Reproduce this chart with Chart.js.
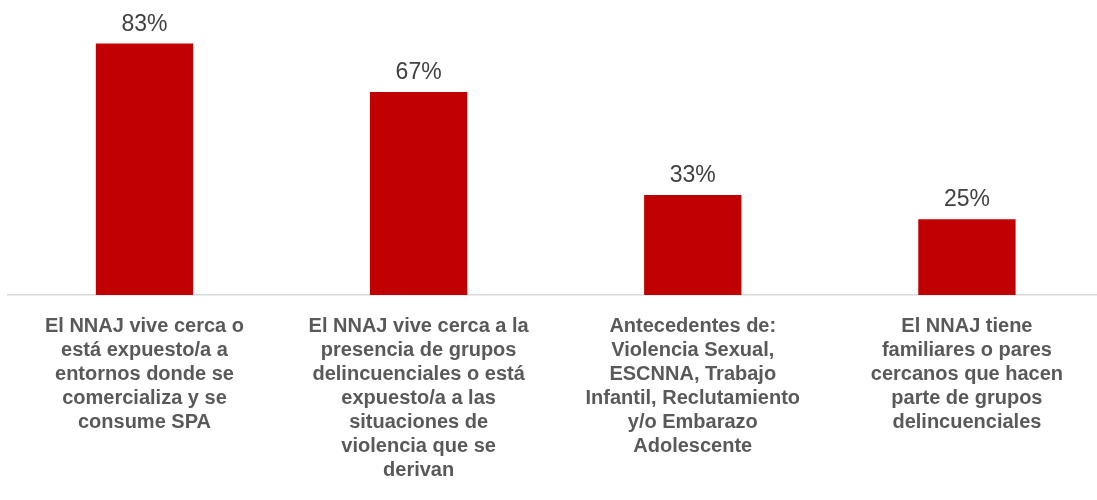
<!DOCTYPE html>
<html>
<head>
<meta charset="utf-8">
<script src="https://cdn.jsdelivr.net/npm/chart.js@4.4.0/dist/chart.umd.min.js"></script>
<style>
  html, body { margin: 0; padding: 0; overflow: hidden; background: #fff; }
  #wrap { width: 1112px; height: 500px; }
</style>
</head>
<body>
<div id="wrap"><canvas id="chart" width="1112" height="500"></canvas></div>
<script>
// categories (wrapped as in the picture)
const categories = [
    ['El NNAJ vive cerca o', 'está expuesto/a a', 'entornos donde se', 'comercializa y se', 'consume SPA'],
    ['El NNAJ vive cerca a la', 'presencia de grupos', 'delincuenciales o está', 'expuesto/a a las', 'situaciones de', 'violencia que se', 'derivan'],
    ['Antecedentes de:', 'Violencia Sexual,', 'ESCNNA, Trabajo', 'Infantil, Reclutamiento', 'y/o Embarazo', 'Adolescente'],
    ['El NNAJ tiene', 'familiares o pares', 'cercanos que hacen', 'parte de grupos', 'delincuenciales']
]
const values = [83, 67, 33, 25]
const valueLabels = ['83%', '67%', '33%', '25%']

const barLabels = {
    id: 'barLabels',
    afterDatasetsDraw(chart) {
        const ctx = chart.ctx
        const meta = chart.getDatasetMeta(0)
        ctx.save()
        ctx.font = '23px "Liberation Sans", Arial, sans-serif'
        ctx.fillStyle = '#404040'
        ctx.textAlign = 'center'
        ctx.textBaseline = 'alphabetic'
        meta.data.forEach((bar, i) => {
            ctx.fillText(valueLabels[i], bar.x, bar.y - 13)
        })
        ctx.restore()
    }
}

const myChart = new Chart(document.getElementById('chart'), {
    type: 'bar',
    data: {
        labels: categories,
        datasets: [{
            data: values,
            backgroundColor: '#c00000',
            borderWidth: 0,
            categoryPercentage: 1,
            barPercentage: 0.355
        }]
    },
    options: {
        responsive: false,
        animation: false,
        layout: { padding: { left: 7.4, right: 8, top: 0, bottom: 0 } },
        plugins: { legend: { display: false }, tooltip: { enabled: false } },
        scales: {
            y: { display: false, min: 0, max: 97.4 },
            x: {
                grid: { display: false, drawTicks: false },
                border: { display: true, color: '#d9d9d9', width: 1.5 },
                ticks: {
                    color: '#595959',
                    padding: 19,
                    maxRotation: 0,
                    autoSkip: false,
                    font: { family: '"Liberation Sans", Arial, sans-serif', size: 20, weight: 'bold', lineHeight: 1.2 }
                },
                afterFit(scale) { scale.height = 205 }
            }
        }
    },
    plugins: [barLabels]
})
</script>
</body>
</html>
